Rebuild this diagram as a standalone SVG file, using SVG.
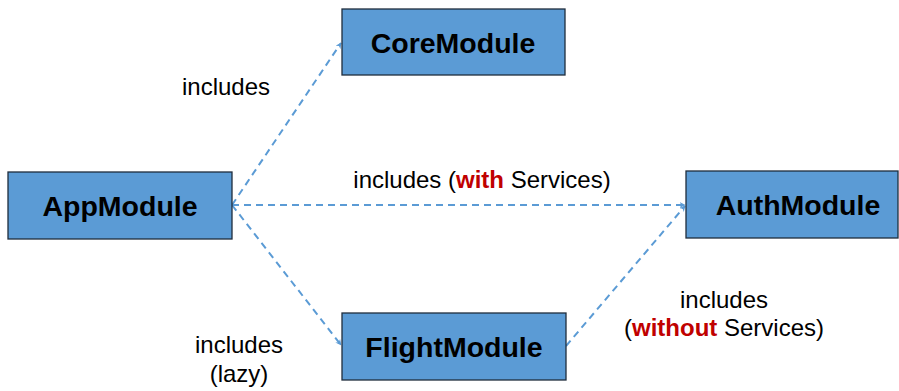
<svg xmlns="http://www.w3.org/2000/svg" width="899" height="391" viewBox="0 0 899 391">
<style>
.box{fill:#5B9BD5;stroke:#1F2D3D;stroke-width:1.3}
.nt{font-family:"Liberation Sans",Arial,sans-serif;font-weight:bold;font-size:28.5px;fill:#000;text-anchor:middle}
.lb{font-family:"Liberation Sans",Arial,sans-serif;font-size:24px;fill:#000;text-anchor:middle}
.em{font-weight:bold;fill:#C00000}
.cn{fill:none;stroke:#5B9BD5;stroke-width:2;stroke-dasharray:7,5}
</style>
<defs>
<marker id="ah" viewBox="0 0 10 10" refX="9" refY="5" markerWidth="6" markerHeight="6" orient="auto" markerUnits="userSpaceOnUse">
<path d="M0,0 L10,5 L0,10 L3,5 z" fill="#5B9BD5"/>
</marker>
</defs>
<rect width="899" height="391" fill="#fff"/>
<g id="connectors">
<line class="cn" x1="232" y1="205" x2="341" y2="43" marker-end="url(#ah)"/>
<line class="cn" x1="232" y1="205" x2="685" y2="205" marker-end="url(#ah)"/>
<line class="cn" x1="232" y1="205" x2="341" y2="345" marker-end="url(#ah)"/>
<line class="cn" x1="566" y1="346" x2="685" y2="206" marker-end="url(#ah)"/>
</g>
<g id="labels">
<text class="lb" x="226" y="95">includes</text>
<text class="lb" x="482" y="188">includes (<tspan class="em">with</tspan> Services)</text>
<text class="lb" x="239" y="353">includes</text>
<text class="lb" x="239" y="382">(lazy)</text>
<text class="lb" x="724" y="308">includes</text>
<text class="lb" x="724" y="336">(<tspan class="em">without</tspan> Services)</text>
</g>
<g id="AppModule">
<rect class="box" x="8" y="172" width="224" height="67"/>
<text class="nt" x="120" y="216">AppModule</text>
</g>
<g id="CoreModule">
<rect class="box" x="342" y="9" width="223" height="66"/>
<text class="nt" x="453" y="53">CoreModule</text>
</g>
<g id="AuthModule">
<rect class="box" x="686" y="171" width="212" height="67"/>
<text class="nt" x="798" y="215">AuthModule</text>
</g>
<g id="FlightModule">
<rect class="box" x="342" y="313" width="224" height="67"/>
<text class="nt" x="454" y="357">FlightModule</text>
</g>
</svg>
